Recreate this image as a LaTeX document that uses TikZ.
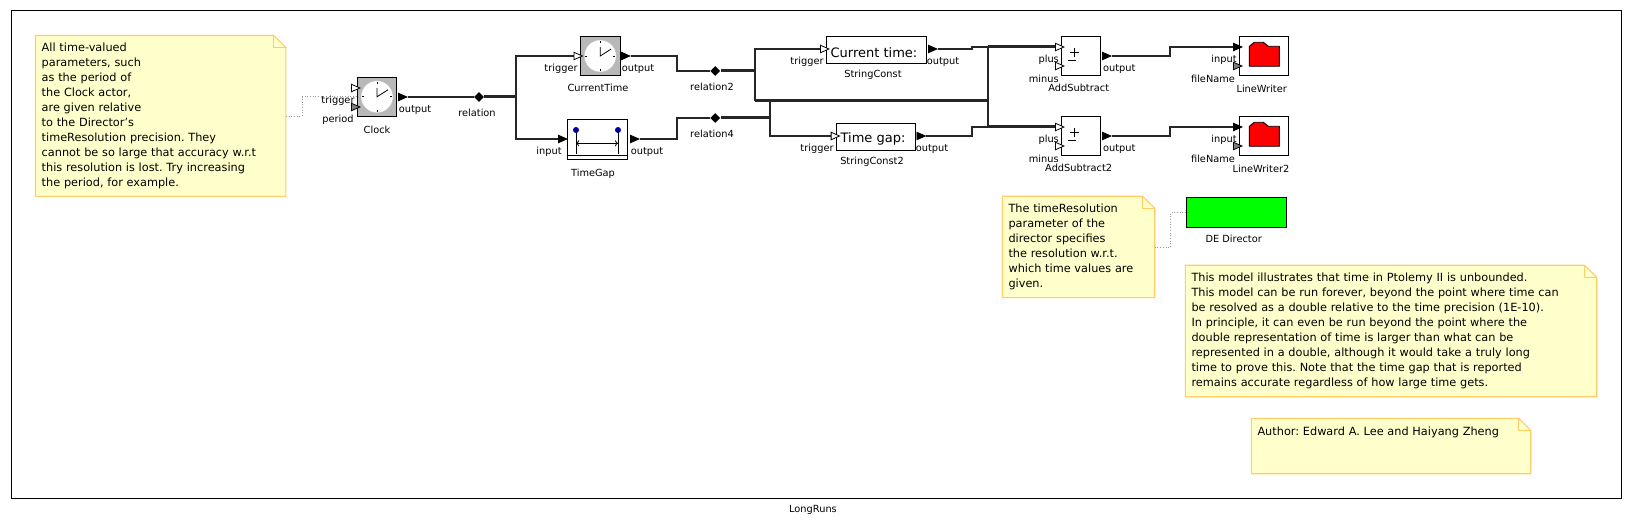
\documentclass[tikz,border=0pt]{standalone}
\usepackage{fontspec}
\setmainfont{DejaVu Sans}
\usepackage{xcolor}
\usepackage{tikz}
\usetikzlibrary{shapes.geometric}
\usetikzlibrary{backgrounds}
\usetikzlibrary{calc}
\usetikzlibrary{arrows.meta}

\definecolor{notefill}{RGB}{255,255,204}
\definecolor{noteedge}{RGB}{255,204,102}
\definecolor{clockgray}{gray}{0.72}
\definecolor{dotblue}{RGB}{0,0,160}

\tikzset{
    actor/.style={draw, line width=0.9pt, fill=white, inner sep=0pt},
    wire/.style={line width=2pt, black!85},
    busline/.style={line width=3pt, black!85},
    notebox/.style={anchor=north west, inner xsep=6pt, inner ysep=0pt, align=left,
                    font=\fontsize{11.3}{15}\selectfont},
    notepaper/.style={draw=noteedge, line width=1.1pt, fill=notefill, line join=round},
    noteline/.style={dotted, gray!80, line width=0.7pt},
    portlabel/.style={inner sep=0pt, font=\fontsize{9.8}{12}\selectfont},
    portbase/.style={isosceles triangle, isosceles triangle stretches, anchor=west,
                     minimum width=7.5pt, minimum height=8.5pt, inner sep=0pt, draw, line width=0.8pt},
    filledport/.style={portbase, fill=black},
    openport/.style={portbase, fill=white},
    paramport/.style={portbase, fill=gray},
    relation/.style={diamond, fill=black, minimum size=10pt, inner sep=0pt},
}

\newcommand{\notepage}[1]{
    \begin{scope}[on background layer]
    \draw [notepaper] (#1.north west) -- ($(#1.north east)+(-12,0)$) -- ($(#1.north east)+(0,12)$)
        -- (#1.south east) -- (#1.south west) -- cycle;
    \draw [notepaper, fill=none] ($(#1.north east)+(-12,0)$) |- ($(#1.north east)+(0,12)$);
    \end{scope}
}
\newcommand{\clockface}[1]{
    \fill [white, draw=black!25] (#1.center) circle (16);
    \foreach \a in {0,90,180,270}
    {
    \draw [line width=0.6pt] ($(#1.center)+(\a:13)$) -- ($(#1.center)+(\a:15)$);
    }
    \draw [line width=0.8pt] ($(#1.center)+(0,-9)$) -- (#1.center) -- ($(#1.center)+(11,-7)$);
}
\frenchspacing

\begin{document}
\begin{tikzpicture}[x=1pt, y=-1pt]
    \useasboundingbox (0,0) rectangle (1632,526);
    \begin{scope}[on background layer]
    \draw [line width=1pt] (11,11) rectangle (1621.3,498.3);
    \end{scope}
    % Notes
    \node [notebox, minimum width=250pt, minimum height=160.5pt, text width=238pt] (clocknote) at (35.5,35.5)
        {All time-valued\\parameters, such\\as the period of\\the Clock actor,\\are given relative\\to the Director's\\timeResolution precision. They\\cannot be so large that accuracy w.r.t\\this resolution is lost. Try increasing\\the period, for example.};
    \node [notebox, minimum width=152pt, minimum height=101pt, text width=140pt] (directornote) at (1002.3,196.3)
        {The timeResolution\\parameter of the\\director specifies\\the resolution w.r.t.\\which time values are\\given.};
    \node [notebox, minimum width=411pt, minimum height=131pt, text width=399pt] (modelnote) at (1185.3,265.3)
        {This model illustrates that time in Ptolemy II is unbounded.\\This model can be run forever, beyond the point where time can\\be resolved as a double relative to the time precision (1E-10).\\In principle, it can even be run beyond the point where the\\double representation of time is larger than what can be\\represented in a double, although it would take a truly long\\time to prove this. Note that the time gap that is reported\\remains accurate regardless of how large time gets.};
    \node [notebox, minimum width=279pt, minimum height=55pt, text width=267pt] (authornote) at (1251.3,418.3)
        {Author: Edward A. Lee and Haiyang Zheng\\~\\~};
    \foreach \n in {clocknote,directornote,modelnote,authornote}
    {
    \notepage{\n}
    }
    % Actors
    \node [actor, fill=clockgray, minimum size=39.5pt] (clock) at (377,96.8) {};
    \node [actor, fill=clockgray, minimum size=39.5pt] (currenttime) at (600.2,56) {};
    \node [actor, minimum width=60pt, minimum height=40pt] (timegap) at (597.3,139.3) {};
    \node [actor, minimum width=100.4pt, minimum height=27pt] (stringconst) at (876.5,49.8) {};
    \node [actor, minimum width=79.4pt, minimum height=27pt] (stringconst2) at (876,136.8) {};
    \node [actor, minimum size=39.5pt] (add) at (1081,56) {};
    \node [actor, minimum size=39.5pt] (add2) at (1081,136) {};
    \node [actor, minimum width=49pt, minimum height=39.2pt] (writer) at (1263.8,55.8) {};
    \node [actor, minimum width=49pt, minimum height=39.2pt] (writer2) at (1263.8,135.8) {};
    \node [actor, fill=green, minimum width=99.7pt, minimum height=30.4pt] (director) at (1236.2,212.5) {};
    % Actor icons
    \clockface{clock}
    \clockface{currenttime}
    \draw ([shift={(0,-5)}]timegap.south west) -- ([shift={(0,-5)}]timegap.south east);
    \foreach \x in {-21.3,20.7}
    {
    \draw ([shift={(\x,-9.3)}]timegap.center) -- ([shift={(\x,15)}]timegap.center);
    \fill [dotblue] ([shift={(\x,-9.3)}]timegap.center) circle (3);
    }
    \draw [{To[length=3pt,width=6pt]}-{To[length=3pt,width=6pt]}, line width=0.8pt]
        ([shift={(-21.3,4)}]timegap.center) -- ([shift={(20.7,4)}]timegap.center);
    \foreach \n in {add,add2}
    {
    \draw [line width=0.7pt] ([shift={(-11.2,-3.7)}]\n.center) -- ++(9,0);
    \draw [line width=0.7pt] ([shift={(-6.7,-8.2)}]\n.center) -- ++(0,9);
    \draw [line width=0.7pt] ([shift={(-13.3,4.3)}]\n.center) -- ++(8.3,0);
    }
    \foreach \n in {writer,writer2}
    {
    \draw [fill=red, line width=0.9pt, line join=round] ([shift={(-14.5,10.5)}]\n.center)
        -- ++(0,-20) -- ++(5,-4) -- ++(9,0) -- ++(5,4) -- ++(11,0) -- ++(0,20) -- cycle;
    }
    \node [inner sep=0pt, font=\fontsize{13}{15}\selectfont] (currentvalue) at (874,52.3) {Current time:};
    \node [inner sep=0pt, font=\fontsize{13}{15}\selectfont] (gapvalue) at (873,139.3) {Time gap:};
    % Relations
    \node [relation] (relation) at (479,97) {};
    \node [relation] (relation2) at (715.3,71) {};
    \node [relation] (relation4) at (715.3,118) {};
    % Corners of the wires
    \foreach \n/\x/\y in {branch/516/97, ctbend/677/71, tgbend/677/118,
                          joinA/755.3/71, joinB/755.3/101, joinC/770.3/101, joinD/770.3/118,
                          joinE/987.7/101, joinF/987.7/47, joinG/987.7/127,
                          scbend/971.7/47, sc2bend/971.7/127, addbend/1170/47, add2bend/1170/127}
    {
    \coordinate (\n) at (\x,\y);
    }
    % Ports
    \foreach \n/\x/\y in {clockout/398/97, ctout/621/56, tgin/558/139, tgout/630/139,
                          scout/928/49, sc2out/916.5/136, addout/1102/56, add2out/1102/136,
                          lwin/1233/47, lw2in/1233/127}
    {
    \node [filledport] (\n) at (\x,\y) {};
    }
    \foreach \n/\x/\y in {clocktrig/351/88, cttrig/573.5/56, sctrig/820/49, sc2trig/830.7/136,
                          addplus/1055/47, addminus/1055/66, add2plus/1055/127, add2minus/1055/146}
    {
    \node [openport] (\n) at (\x,\y) {};
    }
    \foreach \n/\x/\y in {clockperiod/351/107, lwfile/1233/66, lw2file/1233/146}
    {
    \node [paramport] (\n) at (\x,\y) {};
    }
    % Wires
    \draw [wire] (clockout.east) -- (relation);
    \draw [busline] (relation) -- (branch);
    \draw [wire] (cttrig.west) -| (branch) |- (tgin.west);
    \draw [wire] (ctout.east) -| (ctbend) -- (relation2);
    \draw [wire] (tgout.east) -| (tgbend) -- (relation4);
    \draw [busline] (relation2) -- (joinA);
    \draw [busline] (relation4) -- (joinD);
    \draw [wire] (sctrig.west) -| (joinB);
    \draw [busline] (joinB) -- (joinE);
    \draw [wire] (joinC) |- (sc2trig.west);
    \draw [wire] (scout.east) -| (scbend) -- (joinF);
    \draw [wire] (sc2out.east) -| (sc2bend) -- (joinG);
    \draw [busline] (joinF) -- (addplus.west);
    \draw [busline] (joinG) -- (add2plus.west);
    \draw [wire] (joinF) -- (joinG);
    \draw [wire] (addout.east) -| (addbend) -- (lwin.west);
    \draw [wire] (add2out.east) -| (add2bend) -- (lw2in.west);
    % Note links
    \draw [noteline] (clocknote.east) -- ++(16,0) |- (clock.west);
    \draw [noteline] (directornote.east) -- ++(16,0) |- (director.west);
    % Labels
    \foreach \n/\x/\y/\t in {lclocktrig/338/100.5/trigger, lclockperiod/338/120/period, lclockout/415/110/output,
                             lclock/377/129.5/Clock, lrelation/477/112.7/relation,
                             lcttrig/561/68.7/trigger, lctout/638/68.7/output, lct/598/88.3/CurrentTime,
                             ltgin/549/151.7/input, ltgout/647/151.7/output, ltg/593/173.7/TimeGap,
                             lrel2/712/86.7/relation2, lrel4/712/133.7/relation4,
                             lsctrig/807/61.7/trigger, lscout/943/61.7/output, lsc/873/74.7/StringConst,
                             lsc2trig/817/148.7/trigger, lsc2out/932/148.7/output, lsc2/872/161.7/StringConst2,
                             lplus/1048.7/60/plus, lminus/1043.7/79/minus, laddout/1119.3/68.7/output, ladd/1078.7/88.3/AddSubtract,
                             lplus2/1048.7/140/plus, lminus2/1043.7/159/minus, ladd2out/1119.3/148.7/output, ladd2/1078.7/168.3/AddSubtract2,
                             llwin/1224/60/input, llwfile/1213/79/fileName, llw/1261.7/89/LineWriter,
                             llw2in/1224/140/input, llw2file/1213/159/fileName, llw2/1261/168.7/LineWriter2,
                             ldirector/1233.7/238.7/DE Director, lcaption/813/509.7/LongRuns}
    {
    \node [portlabel] (\n) at (\x,\y) {\t};
    }
\end{tikzpicture}
\end{document}
